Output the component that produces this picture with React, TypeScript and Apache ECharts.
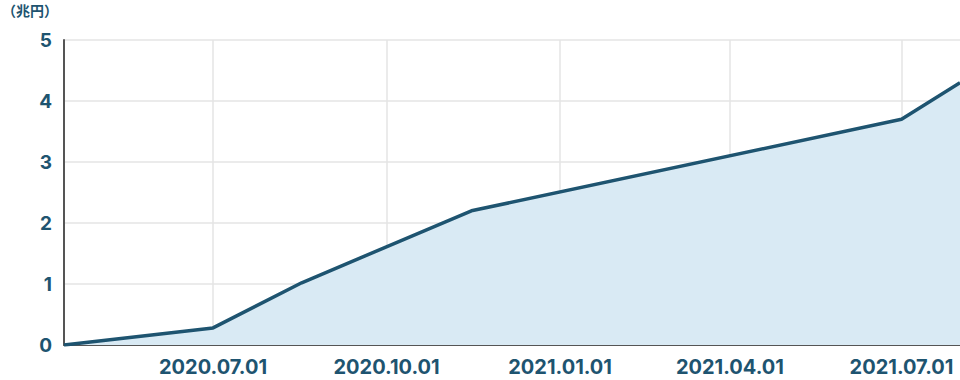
import React, { useEffect, useRef } from "react";
import * as echarts from "echarts";

const dates = ["2020-04-13", "2020-07-01", "2020-08-17", "2020-11-15", "2021-07-01", "2021-08-01"];
const values = [0, 0.28, 1.02, 2.2, 3.7, 4.3];
const tickDates = ["2020-07-01", "2020-10-01", "2021-01-01", "2021-04-01", "2021-07-01"];
const unitLabel = "（兆円）";

const DAY = 86400000;
const base = Date.UTC(2020, 0, 1);
const dayNum = (d: string) => {
  const [y, m, dd] = d.split("-").map(Number);
  return Math.round((Date.UTC(y, m - 1, dd) - base) / DAY);
};
const pad = (n: number) => (n < 10 ? "0" + n : "" + n);
const fmt = (v: number) => {
  const d = new Date(base + v * DAY);
  return d.getUTCFullYear() + "." + pad(d.getUTCMonth() + 1) + "." + pad(d.getUTCDate());
};

export default function App() {
  const ref = useRef<HTMLDivElement>(null);
  useEffect(() => {
    document.body.style.margin = "0";
    const chart = echarts.init(ref.current!, null, { renderer: "svg" });
    const color = "#1e5470";
    const tickVals = tickDates.map(dayNum);
    chart.setOption({
      animation: false,
      grid: { left: 64, right: 0, top: 40, bottom: 35 },
      graphic: [
        {
          type: "text",
          left: 2,
          top: 3,
          style: { text: unitLabel, fill: color, font: "bold 14px 'Noto Sans CJK JP'" },
        },
      ],
      xAxis: {
        type: "value",
        min: dayNum(dates[0]),
        max: dayNum(dates[dates.length - 1]),
        axisLine: { lineStyle: { color: "#555", width: 2 } },
        axisTick: { show: false, customValues: tickVals },
        splitLine: { show: true, lineStyle: { color: "#e4e4e4", width: 1.5 } },
        axisLabel: {
          customValues: tickVals,
          color,
          fontWeight: "bold",
          fontSize: 20,
          fontFamily: "Inter, sans-serif",
          margin: 12,
          formatter: (v: number) => fmt(v),
        },
      },
      yAxis: {
        type: "value",
        min: 0,
        max: 5,
        interval: 1,
        axisLine: { show: true, lineStyle: { color: "#555", width: 2 } },
        axisTick: { show: false },
        splitLine: { lineStyle: { color: "#e4e4e4", width: 1.5 } },
        axisLabel: {
          color,
          fontWeight: "bold",
          fontSize: 19,
          fontFamily: "Inter, sans-serif",
          margin: 12,
        },
      },
      series: [
        {
          type: "line",
          data: dates.map((d, i) => [dayNum(d), values[i]]),
          symbol: "none",
          lineStyle: { color, width: 3.5 },
          areaStyle: { color: "#d9eaf4", opacity: 1 },
          itemStyle: { color },
        },
      ],
    });
    return () => chart.dispose();
  }, []);
  return <div ref={ref} style={{ width: 960, height: 380 }} />;
}
